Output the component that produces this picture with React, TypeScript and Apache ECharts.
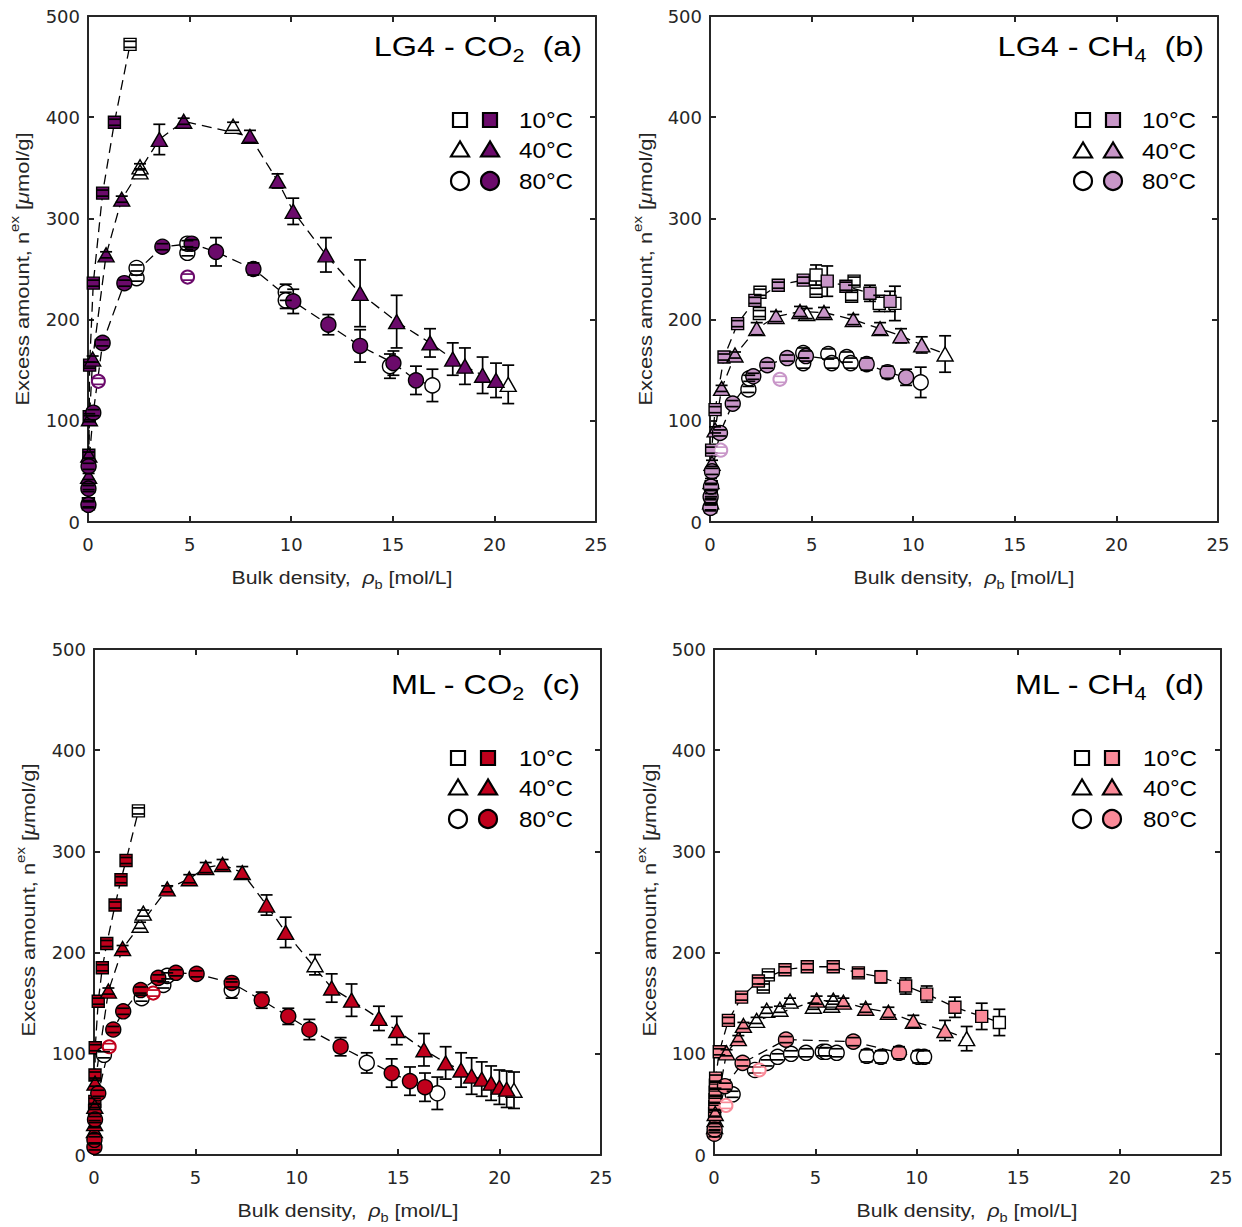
import React, { useEffect, useRef } from 'react';
import * as echarts from 'echarts';

type P = [number, number, number]; // [bulk density, excess amount, error half-width]

// ---------- Panel (a) LG4 - CO2 ----------
const A10_FILLED: P[] = [[0.02,18,3],[0.03,35,3],[0.04,66,3],[0.06,104,3],[0.08,155,3],[0.26,236,3],[0.72,325,3],[1.30,395,3]];
const A10_OPEN: P[] = [[2.07,472,3]];
const A40_FILLED: P[] = [[0.03,45,3],[0.04,66,3],[0.07,102,3],[0.23,161,3],[0.89,264,3],[1.66,319,3],[3.51,378,15],[4.71,396,3],[7.97,381,6],[9.33,337,7],[10.10,307,13],[11.71,264,17],[13.39,226,33],[15.19,198,26],[16.83,177,14],[17.95,161,16],[18.55,154,18],[19.42,145,18],[20.08,140,17]];
const A40_OPEN: P[] = [[2.56,351,3],[2.56,346,3],[7.14,391,4],[20.68,136,19]];
const A80_FILLED: P[] = [[0.02,17,3],[0.02,33,3],[0.03,55,3],[0.26,108,3],[0.72,177,3],[1.79,236,3],[3.66,272,3],[5.10,275,4],[6.30,267,14],[8.14,250,6],[10.10,218,12],[11.83,195,10],[13.39,174,16],[15.03,157,12],[16.14,140,14]];
const A80_OPEN: P[] = [[2.39,241,3],[2.39,251,3],[4.89,266,3],[4.89,275,3],[9.73,227,8],[9.73,219,8],[14.86,154,12],[16.95,135,16]];
const A_OUTLIERS: P[] = [[0.51,139,3],[4.90,242,3]];

// ---------- Panel (b) LG4 - CH4 ----------
const B10_FILLED: P[] = [[0.03,15,3],[0.04,22,3],[0.05,28,3],[0.06,35,3],[0.08,71,3],[0.25,111,3],[0.69,163,3],[1.36,196,3],[2.21,219,3],[3.36,234,3],[4.59,239,3],[5.77,238,15],[6.69,233,4],[7.87,226,8],[8.86,218,10]];
const B10_OPEN: P[] = [[2.46,227,3],[2.43,206,3],[5.22,244,10],[5.22,228,3],[7.09,238,4],[6.97,223,4],[8.33,216,8],[9.10,216,17]];
const B40_FILLED: P[] = [[0.03,20,3],[0.05,40,3],[0.10,58,3],[0.25,91,3],[0.57,132,3],[1.23,165,3],[2.30,191,6],[3.25,203,5],[4.43,208,5],[5.61,207,5],[7.05,200,5],[8.37,191,6],[9.40,184,7],[10.42,175,8]];
const B40_OPEN: P[] = [[4.76,206,5],[11.57,166,18]];
const B80_FILLED: P[] = [[0.02,14,3],[0.03,25,3],[0.05,35,3],[0.10,50,3],[0.49,88,3],[1.12,117,3],[2.13,144,3],[2.82,155,3],[3.80,162,3],[4.72,164,5],[7.71,156,6],[8.74,148,6],[9.65,143,8]];
const B80_OPEN: P[] = [[1.89,131,3],[1.93,142,3],[4.59,167,5],[4.59,157,5],[5.82,166,5],[5.99,157,5],[6.73,163,5],[6.92,157,5],[10.37,138,15]];
const B_OUTLIERS: P[] = [[0.53,71,3],[3.44,141,3]];

// ---------- Panel (c) ML - CO2 ----------
const C10_FILLED: P[] = [[0.03,44,3],[0.04,53,3],[0.05,79,3],[0.06,106,3],[0.21,152,3],[0.41,185,3],[0.63,209,3],[1.04,247,3],[1.33,272,3],[1.58,291,3]];
const C10_OPEN: P[] = [[2.19,340,3]];
const C40_FILLED: P[] = [[0.02,24,3],[0.03,31,3],[0.04,48,3],[0.05,71,3],[0.71,162,3],[1.41,204,3],[3.61,263,3],[4.70,273,4],[5.51,284,5],[6.34,287,5],[7.31,279,6],[8.51,247,10],[9.45,220,15],[11.72,165,14],[12.70,153,16],[14.05,135,12],[14.93,123,14],[16.27,104,16],[17.34,91,16],[18.10,84,17],[18.62,78,18],[19.12,75,17],[19.58,71,17],[19.99,67,17],[20.35,65,18]];
const C40_OPEN: P[] = [[2.27,227,3],[2.43,239,3],[10.90,188,10],[20.71,64,18]];
const C80_FILLED: P[] = [[0.02,8,3],[0.02,15,3],[0.05,35,3],[0.21,61,3],[0.95,124,3],[1.44,142,3],[2.30,163,3],[3.17,175,3],[4.04,180,3],[5.06,179,3],[6.79,170,4],[8.27,153,8],[9.58,137,8],[10.62,124,10],[12.16,107,9],[14.68,81,14],[15.58,73,14],[16.32,67,14]];
const C80_OPEN: P[] = [[0.49,99,3],[2.35,155,3],[3.42,168,3],[3.61,177,3],[6.79,163,8],[13.45,91,10],[16.93,61,16]];
const C_OUTLIERS: P[] = [[0.75,107,3],[2.92,160,3]];

// ---------- Panel (d) ML - CH4 ----------
const D10_FILLED: P[] = [[0.03,41,3],[0.04,48,3],[0.05,55,3],[0.06,62,3],[0.07,69,3],[0.08,76,3],[0.26,102,3],[0.71,133,3],[1.36,156,3],[2.19,172,3],[3.50,183,3],[4.60,186,3],[5.88,186,3],[7.12,180,4],[8.23,176,6],[9.45,167,8],[10.49,159,8],[11.88,146,10],[13.20,137,13]];
const D10_OPEN: P[] = [[2.43,166,3],[2.68,178,3],[14.07,131,13]];
const D40_FILLED: P[] = [[0.03,28,3],[0.05,35,3],[0.06,41,3],[0.62,101,3],[1.20,115,3],[1.45,128,3],[5.06,153,4],[6.38,151,4],[7.48,145,4],[8.60,141,5],[9.83,132,6],[11.39,123,10]];
const D40_OPEN: P[] = [[2.10,133,3],[2.60,143,3],[3.25,144,3],[3.75,152,3],[4.90,147,3],[5.80,148,4],[5.88,153,4],[12.46,115,12]];
const D80_FILLED: P[] = [[0.02,21,3],[0.03,25,3],[0.54,68,3],[1.41,91,3],[3.55,114,3],[6.87,112,4],[9.12,101,6]];
const D80_OPEN: P[] = [[0.92,60,3],[2.02,84,3],[2.60,91,3],[3.14,97,3],[3.80,100,3],[4.54,101,4],[5.36,102,4],[5.52,102,4],[6.05,101,4],[7.53,98,6],[8.23,97,6],[10.07,97,6],[10.36,97,6]];
const D_OUTLIERS: P[] = [[0.59,49,3],[2.23,84,3]];

// ---------- Axes / labels ----------
const X_MIN = 0, X_MAX = 25, X_STEP = 5;
const Y_MIN = 0, Y_MAX = 500, Y_STEP = 100;
const TEMPS = ['10°C', '40°C', '80°C'];

const FONT = "'Liberation Sans', Arial, Helvetica, sans-serif";
const TICK_FONT = "'DejaVu Sans', 'Liberation Sans', Arial, sans-serif";
const AX = '#262626';

const PANELS = [
  { grid: { left: 88, top: 16, width: 508, height: 506 }, color: '#6b0a6b', gas: 'CO', sub: '2', mat: 'LG4', tag: '(a)',
    sets: [[A10_FILLED, A10_OPEN], [A40_FILLED, A40_OPEN], [A80_FILLED, A80_OPEN]], outliers: A_OUTLIERS,
    titleX: 582, titleY: 46, legend: { ox: 460, fx: 490, tx: 519, rows: [120, 150, 181] }, yLab: { x: 22, y: 269 }, xLab: { x: 342, y: 577 } },
  { grid: { left: 710, top: 16, width: 508, height: 506 }, color: '#c896c8', gas: 'CH', sub: '4', mat: 'LG4', tag: '(b)',
    sets: [[B10_FILLED, B10_OPEN], [B40_FILLED, B40_OPEN], [B80_FILLED, B80_OPEN]], outliers: B_OUTLIERS,
    titleX: 1204, titleY: 46, legend: { ox: 1083, fx: 1113, tx: 1142, rows: [120, 151, 181] }, yLab: { x: 645, y: 269 }, xLab: { x: 964, y: 577 } },
  { grid: { left: 94, top: 649, width: 507, height: 506 }, color: '#c0001c', gas: 'CO', sub: '2', mat: 'ML', tag: '(c)',
    sets: [[C10_FILLED, C10_OPEN], [C40_FILLED, C40_OPEN], [C80_FILLED, C80_OPEN]], outliers: C_OUTLIERS,
    titleX: 580, titleY: 684, legend: { ox: 458, fx: 488, tx: 519, rows: [758, 788, 819] }, yLab: { x: 28, y: 900 }, xLab: { x: 348, y: 1210 } },
  { grid: { left: 714, top: 649, width: 507, height: 506 }, color: '#fa8a98', gas: 'CH', sub: '4', mat: 'ML', tag: '(d)',
    sets: [[D10_FILLED, D10_OPEN], [D40_FILLED, D40_OPEN], [D80_FILLED, D80_OPEN]], outliers: D_OUTLIERS,
    titleX: 1204, titleY: 684, legend: { ox: 1082, fx: 1112, tx: 1143, rows: [758, 788, 819] }, yLab: { x: 649, y: 900 }, xLab: { x: 967, y: 1210 } },
];

const SYMBOLS = ['rect', 'triangle', 'circle'];
const SYM_SIZE: any[] = [12, [16, 14], 15];

function lineOf(filled: P[], open: P[]) {
  const xs = filled.map((p) => p[0]);
  const mn = Math.min(...xs), mx = Math.max(...xs);
  const pts = [...filled, ...open.filter((p) => p[0] > mx || p[0] < mn)].map((p) => [p[0], p[1]]);
  pts.sort((a, b) => a[0] - b[0]);
  return pts;
}

const stemItem = (color: string) => (params: any, api: any) => {
  const x = api.value(0), y = api.value(1), e = api.value(2);
  const p1 = api.coord([x, y + e]);
  const p2 = api.coord([x, y - e]);
  return { type: 'line', shape: { x1: p1[0], y1: p1[1], x2: p2[0], y2: p2[1] }, style: { stroke: color, lineWidth: 1.7 } };
};
const capItem = (color: string) => (params: any, api: any) => {
  const x = api.value(0), y = api.value(1), e = api.value(2);
  const p1 = api.coord([x, y + e]);
  const p2 = api.coord([x, y - e]);
  const w = 6;
  return {
    type: 'group',
    children: [
      { type: 'line', shape: { x1: p1[0] - w, y1: p1[1], x2: p1[0] + w, y2: p1[1] }, style: { stroke: color, lineWidth: 1.7 } },
      { type: 'line', shape: { x1: p2[0] - w, y1: p2[1], x2: p2[0] + w, y2: p2[1] }, style: { stroke: color, lineWidth: 1.7 } },
    ],
  };
};

function buildOption() {
  const grid: any[] = [];
  const xAxis: any[] = [];
  const yAxis: any[] = [];
  const series: any[] = [];
  const graphic: any[] = [];

  const axisCommon = {
    type: 'value',
    splitLine: { show: false },
    axisLine: { show: true, onZero: false, lineStyle: { color: AX, width: 2 } },
    axisTick: { show: true, inside: true, length: 6, lineStyle: { color: AX, width: 2 } },
  };

  PANELS.forEach((pn, gi) => {
    grid.push({ ...pn.grid, containLabel: false });
    xAxis.push({ ...axisCommon, gridIndex: gi, position: 'bottom', min: X_MIN, max: X_MAX, interval: X_STEP,
      axisLabel: { color: AX, fontSize: 18, fontFamily: TICK_FONT, margin: 13 } });
    xAxis.push({ ...axisCommon, gridIndex: gi, position: 'top', min: X_MIN, max: X_MAX, interval: X_STEP, axisLabel: { show: false } });
    yAxis.push({ ...axisCommon, gridIndex: gi, position: 'left', min: Y_MIN, max: Y_MAX, interval: Y_STEP,
      axisLabel: { color: AX, fontSize: 18, fontFamily: TICK_FONT, margin: 8 } });
    yAxis.push({ ...axisCommon, gridIndex: gi, position: 'right', min: Y_MIN, max: Y_MAX, interval: Y_STEP, axisLabel: { show: false } });
    const xi = gi * 2, yi = gi * 2;
    const base = { xAxisIndex: xi, yAxisIndex: yi, silent: true };

    const allPts: P[] = [];
    pn.sets.forEach(([filled, open], ti) => {
      series.push({ ...base, type: 'line', data: lineOf(filled as P[], open as P[]), symbol: 'none', showSymbol: false, z: 1,
        lineStyle: { color: '#000', width: 1.3, type: [10, 6] } });
      allPts.push(...(filled as P[]), ...(open as P[]));
      series.push({ ...base, type: 'scatter', data: (open as P[]).map((p) => [p[0], p[1]]), symbol: SYMBOLS[ti], symbolSize: SYM_SIZE[ti], z: 3,
        itemStyle: { color: '#ffffff', borderColor: '#000', borderWidth: 1.4, opacity: 1 } });
      series.push({ ...base, type: 'scatter', data: (filled as P[]).map((p) => [p[0], p[1]]), symbol: SYMBOLS[ti], symbolSize: SYM_SIZE[ti], z: 3,
        itemStyle: { color: pn.color, borderColor: '#000', borderWidth: 1.4, opacity: 1 } });
    });
    series.push({ ...base, type: 'custom', data: allPts, encode: { x: 0, y: 1 }, renderItem: stemItem('#000'), z: 2 });
    series.push({ ...base, type: 'custom', data: allPts, encode: { x: 0, y: 1 }, renderItem: capItem('#000'), z: 4 });
    series.push({ ...base, type: 'scatter', data: pn.outliers.map((p) => [p[0], p[1]]), symbol: 'circle', symbolSize: 13, z: 3,
      itemStyle: { color: '#ffffff', borderColor: pn.color, borderWidth: 2, opacity: 1 } });
    series.push({ ...base, type: 'custom', data: pn.outliers, encode: { x: 0, y: 1 }, renderItem: capItem(pn.color), z: 4 });

    // title
    graphic.push({
      type: 'text', x: pn.titleX, y: pn.titleY, z: 10, scaleX: 1.2,
      style: {
        text: `{t|${pn.mat} - ${pn.gas}}{s|${pn.sub}}{t|  ${pn.tag}}`,
        textAlign: 'right', align: 'right', textVerticalAlign: 'middle', verticalAlign: 'middle',
        rich: {
          t: { fontSize: 27, fontFamily: FONT, fill: '#000', lineHeight: 38, verticalAlign: 'middle' },
          s: { fontSize: 18, fontFamily: FONT, fill: '#000', lineHeight: 18, verticalAlign: 'bottom' },
        },
      },
    });
    // y label
    graphic.push({
      type: 'text', x: pn.yLab.x, y: pn.yLab.y, rotation: Math.PI / 2, z: 10, scaleX: 1.15,
      style: {
        text: '{n|Excess amount, n}{sup|ex}{n| [}{i|μ}{n|mol/g]}',
        textAlign: 'center', align: 'center', textVerticalAlign: 'middle', verticalAlign: 'middle',
        rich: {
          n: { fontSize: 19, fontFamily: FONT, fill: AX, lineHeight: 28, verticalAlign: 'middle' },
          i: { fontSize: 19, fontFamily: FONT, fontStyle: 'italic', fill: AX, lineHeight: 28, verticalAlign: 'middle' },
          sup: { fontSize: 13, fontFamily: FONT, fill: AX, lineHeight: 13, verticalAlign: 'top' },
        },
      },
    });
    // x label
    graphic.push({
      type: 'text', x: pn.xLab.x, y: pn.xLab.y, z: 10, scaleX: 1.12,
      style: {
        text: '{n|Bulk density,  }{i|ρ}{sub|b}{n| [mol/L]}',
        textAlign: 'center', align: 'center', textVerticalAlign: 'middle', verticalAlign: 'middle',
        rich: {
          n: { fontSize: 19, fontFamily: FONT, fill: AX, lineHeight: 28, verticalAlign: 'middle' },
          i: { fontSize: 19, fontFamily: FONT, fontStyle: 'italic', fill: AX, lineHeight: 28, verticalAlign: 'middle' },
          sub: { fontSize: 13, fontFamily: FONT, fill: AX, lineHeight: 13, verticalAlign: 'bottom' },
        },
      },
    });
    // legend
    const lg = pn.legend;
    lg.rows.forEach((cy, ti) => {
      [lg.ox, lg.fx].forEach((cx, k) => {
        const fill = k === 0 ? '#ffffff' : pn.color;
        const style = { fill, stroke: '#000', lineWidth: 2.2 };
        if (ti === 0) graphic.push({ type: 'rect', z: 10, shape: { x: cx - 7, y: cy - 7, width: 14, height: 14 }, style });
        else if (ti === 1) graphic.push({ type: 'polygon', z: 10, shape: { points: [[cx, cy - 8.5], [cx - 9, cy + 6.5], [cx + 9, cy + 6.5]] }, style });
        else graphic.push({ type: 'circle', z: 10, shape: { cx, cy, r: 9 }, style });
      });
      graphic.push({ type: 'text', x: lg.tx, y: cy, z: 10, scaleX: 1.1,
        style: { text: TEMPS[ti], fontSize: 22, fontFamily: FONT, fill: '#000', textAlign: 'left', align: 'left', textVerticalAlign: 'middle', verticalAlign: 'middle' } });
    });
  });

  return { animation: false, backgroundColor: '#ffffff', grid, xAxis, yAxis, series, graphic };
}

export default function App() {
  const ref = useRef<HTMLDivElement>(null);
  useEffect(() => {
    if (!ref.current) return;
    const chart = echarts.init(ref.current, undefined, { renderer: 'svg' });
    chart.setOption(buildOption() as any);
    return () => chart.dispose();
  }, []);
  return <div ref={ref} style={{ position: 'fixed', left: 0, top: 0, width: 1242, height: 1227, background: '#fff' }} />;
}
